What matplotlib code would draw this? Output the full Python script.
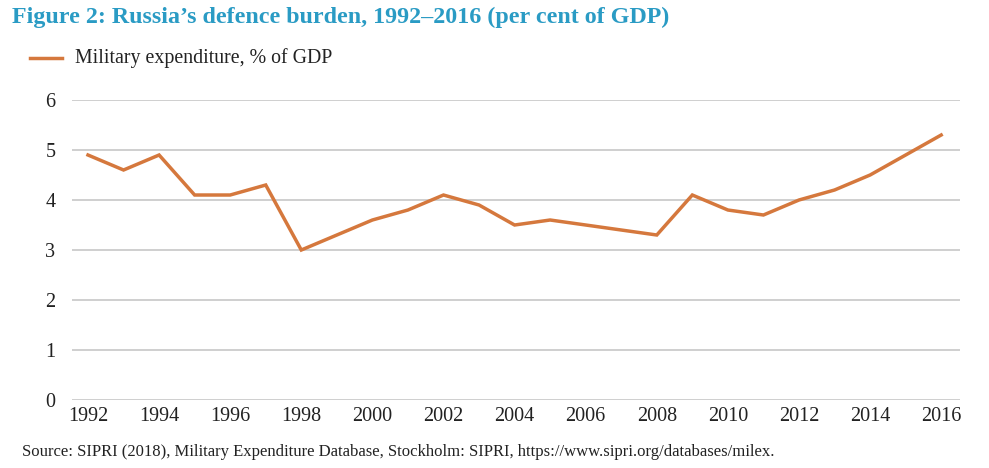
import matplotlib.pyplot as plt
from matplotlib.lines import Line2D

years = list(range(1992, 2017))
milex = [4.9, 4.6, 4.9, 4.1, 4.1, 4.3, 3.0, 3.3, 3.6, 3.8, 4.1, 3.9, 3.5,
         3.6, 3.5, 3.4, 3.3, 4.1, 3.8, 3.7, 4.0, 4.2, 4.5, 4.9, 5.3]
xticks = list(range(1992, 2017, 2))
yticks = [0, 1, 2, 3, 4, 5, 6]

orange = "#d5783d"
blue = "#2a9bc4"
plt.rcParams["font.family"] = ["Liberation Serif", "DejaVu Serif"]

fig = plt.figure(figsize=(9.89, 4.68), dpi=100)
ax = fig.add_axes([0.0728, 0.1453, 0.8979, 0.641])

ax.plot(years, milex, color=orange, linewidth=2.5, solid_joinstyle="miter")
ax.set_xlim(1991.55, 2016.53)
ax.set_ylim(0, 6)
ax.set_xticks(xticks)
ax.set_yticks(yticks)
ax.grid(axis="y", color="#cccccc", linewidth=1.3)
ax.set_axisbelow(True)
for s in ax.spines.values():
    s.set_visible(False)
ax.tick_params(length=0, labelsize=14.5, colors="#222222")
ax.tick_params(axis="y", pad=12)
ax.tick_params(axis="x", pad=5)

fig.text(0.012, 0.962, "Figure 2: Russia\u2019s defence burden, 1992\u20132016 (per cent of GDP)",
         color=blue, fontsize=17.3, fontweight="bold", va="center", ha="left")
fig.add_artist(Line2D([30 / 989, 62 / 989], [1 - 58 / 468, 1 - 58 / 468],
                      color=orange, linewidth=2.5))
fig.text(75 / 989, 1 - 58 / 468, "Military expenditure, % of GDP",
         fontsize=14.3, va="center", ha="left", color="#222222")
fig.text(22 / 989, 1 - 452 / 468,
         "Source: SIPRI (2018), Military Expenditure Database, Stockholm: SIPRI, https://www.sipri.org/databases/milex.",
         fontsize=12, va="center", ha="left", color="#222222")

fig.savefig("out.png", dpi=100)
